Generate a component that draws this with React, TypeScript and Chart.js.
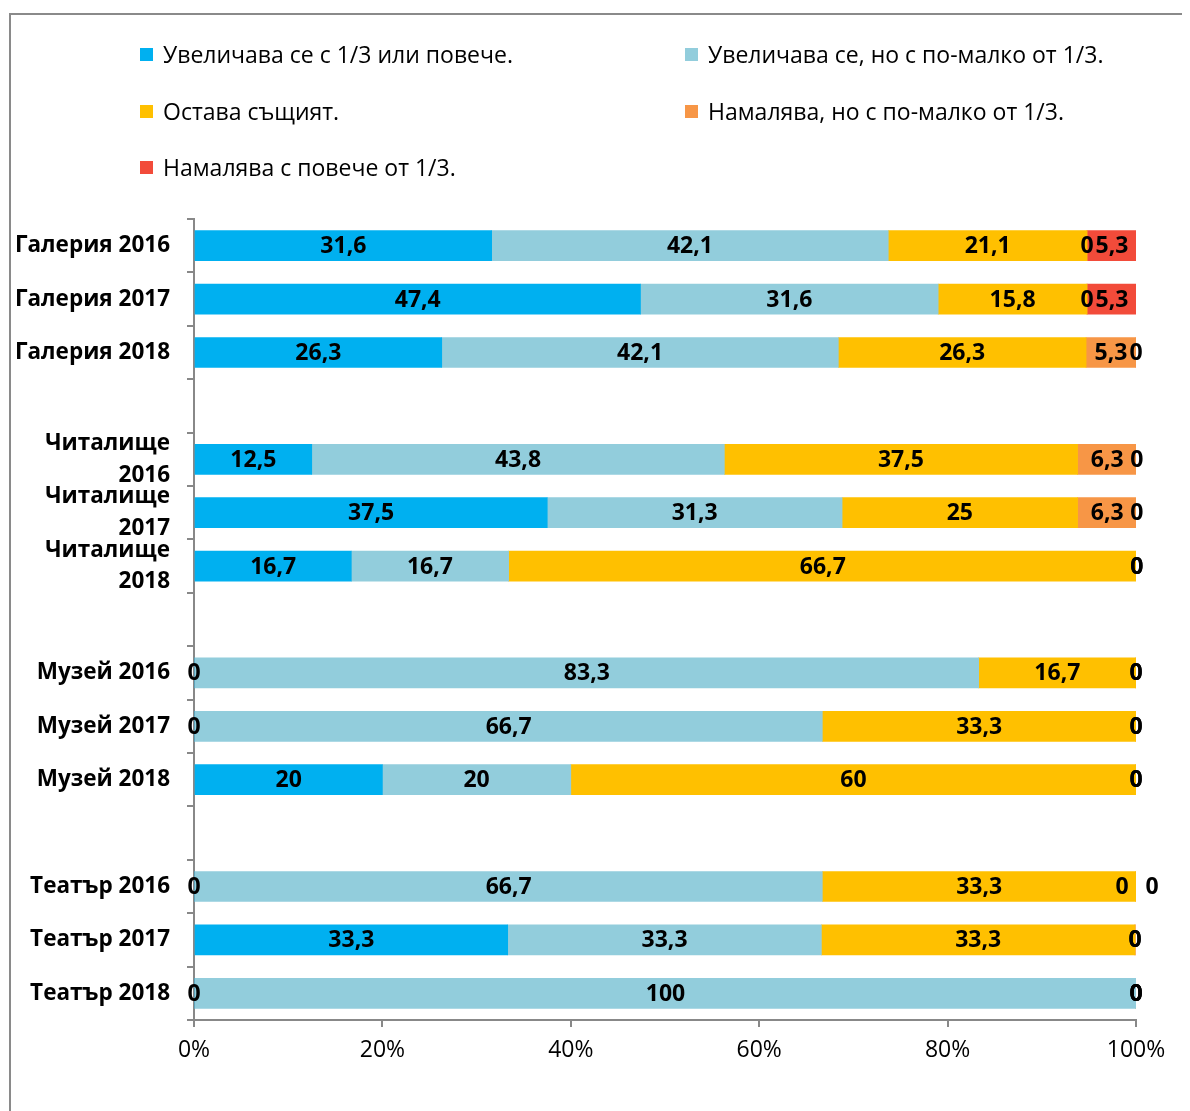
import React, { useEffect, useRef } from "react";
import { Chart, registerables } from "chart.js";

Chart.register(...registerables);

const categories: (string | string[])[] = [
  "Галерия 2016",
  "Галерия 2017",
  "Галерия 2018",
  "",
  ["Читалище", "2016"],
  ["Читалище", "2017"],
  ["Читалище", "2018"],
  "",
  "Музей 2016",
  "Музей 2017",
  "Музей 2018",
  "",
  "Театър 2016",
  "Театър 2017",
  "Театър 2018",
];

const seriesNames = [
  "Увеличава се с 1/3 или повече.",
  "Увеличава се, но с по-малко от 1/3.",
  "Остава същият.",
  "Намалява, но с по-малко от 1/3.",
  "Намалява с повече от 1/3.",
];

const increaseBig = [31.6, 47.4, 26.3, null, 12.5, 37.5, 16.7, null, 0, 0, 20, null, 0, 33.3, 0];
const increaseSmall = [42.1, 31.6, 42.1, null, 43.8, 31.3, 16.7, null, 83.3, 66.7, 20, null, 66.7, 33.3, 100];
const sameValue = [21.1, 15.8, 26.3, null, 37.5, 25, 66.7, null, 16.7, 33.3, 60, null, 33.3, 33.3, 0];
const decreaseSmall = [0, 0, 5.3, null, 6.3, 6.3, 0, null, 0, 0, 0, null, 0, 0, 0];
const decreaseBig = [5.3, 5.3, 0, null, 0, 0, 0, null, 0, 0, 0, null, 0, 0, 0];

const xTicks = [0, 20, 40, 60, 80, 100];

const colors = ["#00B0F0", "#92CDDC", "#FFC000", "#F79646", "#F24B3A"];

const FONT = "'Open Sans', 'Noto Sans', sans-serif";
const AXIS = "#888888";

const labelPlugin = {
  id: "barLabels",
  afterDatasetsDraw(chart: any) {
    const ctx = chart.ctx;
    ctx.save();
    ctx.font = `bold 23px ${FONT}`;
    ctx.fillStyle = "#000";
    ctx.textAlign = "center";
    ctx.textBaseline = "middle";
    chart.data.datasets.forEach((ds: any, di: number) => {
      const meta = chart.getDatasetMeta(di);
      meta.data.forEach((el: any, i: number) => {
        const v = ds.data[i];
        if (v === null || v === undefined) return;
        const p = el.getProps(["x", "y", "base"], true);
        let cx = (p.x + p.base) / 2;
        // Excel spread two coinciding zero labels apart on this row
        if (chart.data.labels[i] === "Театър 2016" && v === 0 && di >= 3) {
          cx += di === 3 ? -14 : 16;
        }
        ctx.fillText(String(v).replace(".", ","), cx, p.y + 1);
      });
    });
    ctx.restore();
  },
};

export default function App() {
  const ref = useRef<HTMLCanvasElement>(null);

  useEffect(() => {
    document.body.style.overflow = "hidden";
    document.documentElement.style.overflow = "hidden";
    const data = [increaseBig, increaseSmall, sameValue, decreaseSmall, decreaseBig];
    const chart = new Chart(ref.current as HTMLCanvasElement, {
      type: "bar",
      data: {
        labels: categories,
        datasets: data.map((d, i) => ({
          label: seriesNames[i],
          data: d,
          backgroundColor: colors[i],
          borderWidth: 0,
          barThickness: 30,
        })),
      },
      options: {
        indexAxis: "y",
        responsive: false,
        animation: false,
        devicePixelRatio: 1,
        layout: { padding: { left: 0, right: 54, top: 211, bottom: 0 } },
        plugins: {
          legend: { display: false },
          tooltip: { enabled: false },
          title: { display: false },
        },
        scales: {
          x: {
            stacked: true,
            min: 0,
            max: 100,
            afterBuildTicks: (s: any) => {
              s.ticks = xTicks.map((v) => ({ value: v }));
            },
            afterFit: (s: any) => {
              s.height = 91;
            },
            grid: {
              drawOnChartArea: false,
              drawTicks: true,
              tickLength: 7,
              color: AXIS,
              lineWidth: 2,
            },
            border: { color: AXIS, width: 2 },
            ticks: {
              padding: 10,
              color: "#000",
              font: { family: FONT, size: 23 },
              callback: (v: any) => v + "%",
            },
          },
          y: {
            stacked: true,
            afterFit: (s: any) => {
              s.width = 186;
            },
            grid: {
              drawOnChartArea: false,
              drawTicks: true,
              tickLength: 7,
              color: AXIS,
              lineWidth: 2,
              offset: true,
            },
            border: { color: AXIS, width: 2 },
            ticks: {
              padding: 17,
              color: "#000",
              autoSkip: false,
              font: { family: FONT, size: 22.5, weight: "bold", lineHeight: 1.42 },
            },
          },
        },
      },
      plugins: [labelPlugin],
    } as any);
    return () => chart.destroy();
  }, []);

  const legendPos = [
    { left: 132, top: 46 },
    { left: 677, top: 46 },
    { left: 132, top: 103 },
    { left: 677, top: 103 },
    { left: 132, top: 159 },
  ];

  return (
    <div style={{ position: "relative", width: 1182, height: 1103, overflow: "hidden", fontFamily: FONT }}>
      <div
        style={{
          position: "absolute",
          left: 40,
          top: -28,
          fontWeight: "bold",
          fontSize: 22,
          lineHeight: "28px",
          color: "#000",
          whiteSpace: "nowrap",
        }}
      >
        Фигура 4 (%)
      </div>
      <div
        style={{
          position: "absolute",
          left: 1,
          top: 5,
          width: 1300,
          height: 1300,
          borderLeft: "2px solid #8a8a8a",
          borderTop: "2px solid #8a8a8a",
        }}
      />
      <canvas ref={ref} width={1182} height={1103} style={{ position: "absolute", left: 0, top: 0 }} />
      {seriesNames.map((name, i) => (
        <div
          key={i}
          style={{
            position: "absolute",
            left: legendPos[i].left,
            top: legendPos[i].top - 15,
            height: 30,
            display: "flex",
            alignItems: "center",
            whiteSpace: "nowrap",
            fontSize: 23,
            color: "#000",
          }}
        >
          <span style={{ width: 13, height: 13, background: colors[i], display: "inline-block", marginRight: 10 }} />
          <span>{name}</span>
        </div>
      ))}
    </div>
  );
}
